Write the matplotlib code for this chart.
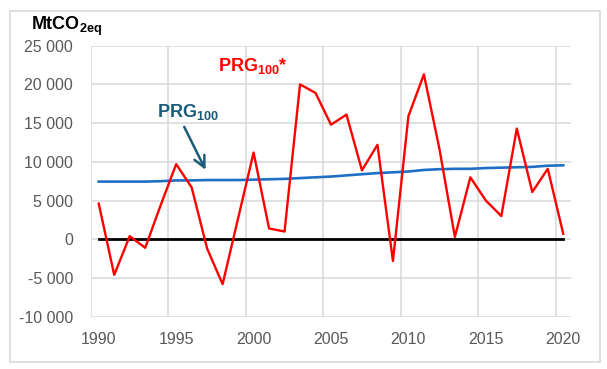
import matplotlib
matplotlib.use("Agg")
import matplotlib.pyplot as plt
from matplotlib.patches import Rectangle

plt.rcParams['font.family'] = ['Liberation Sans', 'DejaVu Sans']
plt.rcParams['mathtext.fontset'] = 'custom'
plt.rcParams['mathtext.rm'] = 'Liberation Sans'
plt.rcParams['mathtext.bf'] = 'Liberation Sans:bold'

years = list(range(1990, 2021))
prg100_star = [4600, -4600, 400, -1100, 4400, 9700, 6700, -1200, -5800, 2700,
               11200, 1400, 1000, 20000, 18900, 14800, 16100, 8900, 12200, -2800,
               15900, 21300, 11700, 300, 8000, 5000, 3000, 14300, 6100, 9100, 700]
prg100 = [7450, 7450, 7450, 7450, 7500, 7600, 7600, 7650, 7650, 7650,
          7700, 7750, 7800, 7900, 8000, 8100, 8250, 8400, 8550, 8650,
          8750, 8950, 9050, 9100, 9100, 9200, 9250, 9300, 9350, 9500, 9550]
zero_line = [0] * len(years)
tick_years = [1990, 1995, 2000, 2005, 2010, 2015, 2020]
y_ticks = [-10000, -5000, 0, 5000, 10000, 15000, 20000, 25000]

fig = plt.figure(figsize=(6.07, 3.69), dpi=100)
fig.patches.append(Rectangle((10/607, 1-361.5/369), 590/607, 351/369,
                             transform=fig.transFigure, fill=False,
                             edgecolor='#D9D9D9', linewidth=1.2))
ax = fig.add_axes([91/607, 1-316.7/369, 480/607, 271/369])

ax.plot(years, zero_line, color='black', lw=2.0, zorder=2)
ax.plot(years, prg100, color='#1F6FC5', lw=1.9, zorder=3)
ax.plot(years, prg100_star, color='#FF0000', lw=1.7, zorder=4)

ax.set_xlim(1989.5, 2020.5)
ax.set_ylim(-10000, 25000)
ax.set_xticks(tick_years)
ax.set_xticklabels([str(y) for y in tick_years])
ax.set_xticks([1989.5 + 5*k for k in range(7)], minor=True)
ax.set_yticks(y_ticks)
ax.set_yticklabels([f"{v:,}".replace(",", " ") for v in y_ticks])
ax.tick_params(axis='both', which='both', length=0, labelsize=11.5, labelcolor='#595959')
ax.tick_params(axis='y', pad=13)
ax.tick_params(axis='x', pad=11)
ax.grid(which='major', axis='y', color='#D9D9D9', lw=1.1, zorder=0)
ax.grid(which='minor', axis='x', color='#D9D9D9', lw=1.1, zorder=0)
for s in ax.spines.values():
    s.set_visible(False)
ax.set_axisbelow(True)

fig.text(31/607, 1-30/369, r"MtCO$\mathbf{_{2eq}}$", fontsize=13, fontweight='bold',
         color='black', va='baseline', ha='left')
ax.text(1997.7, 21680, r"PRG$\mathbf{_{100}}$*", fontsize=13, fontweight='bold',
        color='#FF0000', va='baseline', ha='left')
ax.text(1993.76, 15740, r"PRG$\mathbf{_{100}}$", fontsize=13, fontweight='bold',
        color='#1B5A78', va='baseline', ha='left')
ax.annotate("", xy=(1996.98, 8650), xytext=(1995.44, 14840),
            arrowprops=dict(arrowstyle='->,head_length=0.8,head_width=0.4',
                            color='#1B5A78', lw=1.8))

fig.savefig("out.png", dpi=100)
